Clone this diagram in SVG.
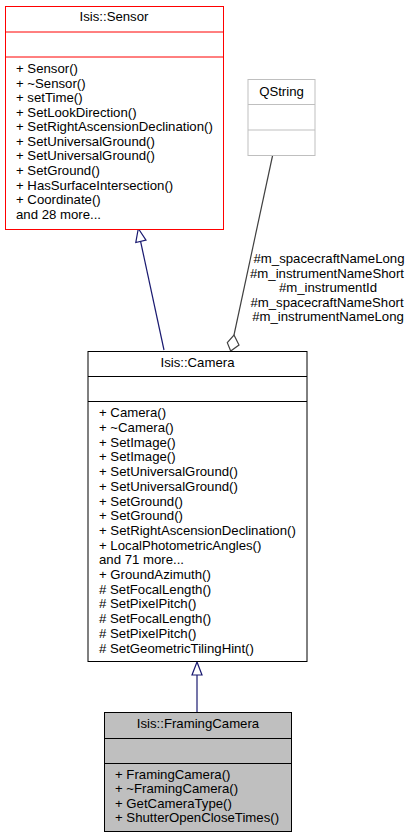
<svg xmlns="http://www.w3.org/2000/svg" width="409" height="839" viewBox="0 0 409 839">
<style>
text{font-family:"Liberation Sans",Arial,sans-serif;font-size:13.2px;fill:#000}
.t{text-anchor:middle}
</style>
<rect width="409" height="839" fill="#fff"/>
<g id="connectors">
  <line x1="164" y1="350" x2="140.5" y2="241" stroke="#191970" stroke-width="1.2"/>
  <polygon points="138.3,228.5 135.8,242.5 146,240.2" fill="#fff" stroke="#191970" stroke-width="1.2"/>
  <line x1="197" y1="712" x2="197" y2="675" stroke="#191970" stroke-width="1.2"/>
  <polygon points="197,662 192,675 202,675" fill="#fff" stroke="#191970" stroke-width="1.2"/>
  <line x1="272.7" y1="155" x2="234" y2="335" stroke="#404040" stroke-width="1.2"/>
  <polygon points="234,335 239,345 230.7,351 227.3,342.7" fill="#fff" stroke="#404040" stroke-width="1.2"/>
  <g class="t">
    <text x="329" y="263">#m_spacecraftNameLong</text>
    <text x="327" y="277.5">#m_instrumentNameShort</text>
    <text x="328" y="292">#m_instrumentId</text>
    <text x="327" y="306.5">#m_spacecraftNameShort</text>
    <text x="328" y="321">#m_instrumentNameLong</text>
  </g>
</g>
<g id="sensor">
  <rect x="5.5" y="6.5" width="218" height="223" fill="#fff" stroke="#ff0000"/>
  <line x1="5.5" y1="32" x2="223.5" y2="32" stroke="#ff0000"/>
  <line x1="5.5" y1="57" x2="223.5" y2="57" stroke="#ff0000"/>
  <text class="t" x="114" y="21">Isis::Sensor</text>
  <text x="16" y="73">+ Sensor()</text>
  <text x="16" y="87.6">+ ~Sensor()</text>
  <text x="16" y="102.1">+ setTime()</text>
  <text x="16" y="116.7">+ SetLookDirection()</text>
  <text x="16" y="131.3">+ SetRightAscensionDeclination()</text>
  <text x="16" y="145.9">+ SetUniversalGround()</text>
  <text x="16" y="160.4">+ SetUniversalGround()</text>
  <text x="16" y="175">+ SetGround()</text>
  <text x="16" y="189.6">+ HasSurfaceIntersection()</text>
  <text x="16" y="204.1">+ Coordinate()</text>
  <text x="16" y="218.7">and 28 more...</text>
</g>
<g id="qstring">
  <rect x="248" y="79.5" width="67" height="76" fill="#fff" stroke="#bfbfbf"/>
  <line x1="248" y1="104.5" x2="315" y2="104.5" stroke="#bfbfbf"/>
  <line x1="248" y1="130" x2="315" y2="130" stroke="#bfbfbf"/>
  <text class="t" x="281.5" y="96">QString</text>
</g>
<g id="camera">
  <rect x="88" y="351.5" width="219" height="310" fill="#fff" stroke="#000"/>
  <line x1="88" y1="376.5" x2="307" y2="376.5" stroke="#000"/>
  <line x1="88" y1="401.5" x2="307" y2="401.5" stroke="#000"/>
  <text class="t" x="197.5" y="367">Isis::Camera</text>
  <text x="99" y="417.3">+ Camera()</text>
  <text x="99" y="432">+ ~Camera()</text>
  <text x="99" y="446.7">+ SetImage()</text>
  <text x="99" y="461.4">+ SetImage()</text>
  <text x="99" y="476.1">+ SetUniversalGround()</text>
  <text x="99" y="490.8">+ SetUniversalGround()</text>
  <text x="99" y="505.5">+ SetGround()</text>
  <text x="99" y="520.2">+ SetGround()</text>
  <text x="99" y="534.9">+ SetRightAscensionDeclination()</text>
  <text x="99" y="549.6">+ LocalPhotometricAngles()</text>
  <text x="99" y="564.3">and 71 more...</text>
  <text x="99" y="579">+ GroundAzimuth()</text>
  <text x="99" y="593.7"># SetFocalLength()</text>
  <text x="99" y="608.4"># SetPixelPitch()</text>
  <text x="99" y="623.1"># SetFocalLength()</text>
  <text x="99" y="637.8"># SetPixelPitch()</text>
  <text x="99" y="652.5"># SetGeometricTilingHint()</text>
</g>
<g id="framingcamera">
  <rect x="104.5" y="712.5" width="187" height="119" fill="#bfbfbf" stroke="#000"/>
  <line x1="104.5" y1="738.5" x2="291.5" y2="738.5" stroke="#000"/>
  <line x1="104.5" y1="763.5" x2="291.5" y2="763.5" stroke="#000"/>
  <text class="t" x="198" y="728">Isis::FramingCamera</text>
  <text x="115" y="779">+ FramingCamera()</text>
  <text x="115" y="793.4">+ ~FramingCamera()</text>
  <text x="115" y="807.8">+ GetCameraType()</text>
  <text x="115" y="822.2">+ ShutterOpenCloseTimes()</text>
</g>
</svg>
